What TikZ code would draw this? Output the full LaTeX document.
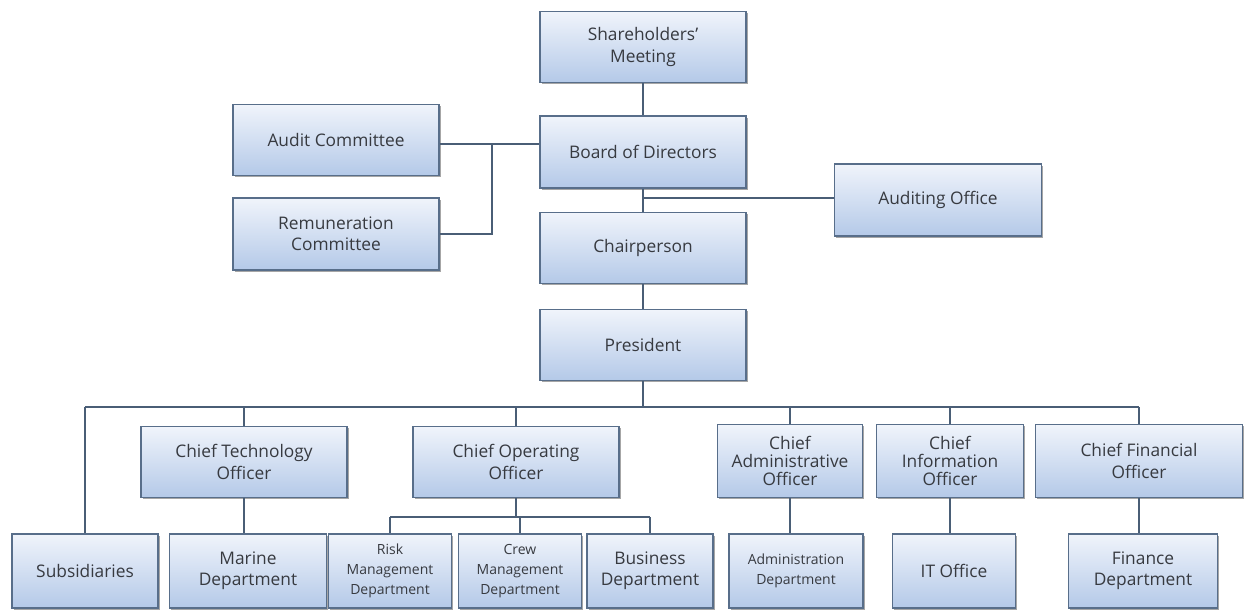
\documentclass[tikz,border=0pt]{standalone}
\usepackage{fontspec}
\setmainfont{Open Sans}
\usetikzlibrary{shadows}
\definecolor{boxtop}{RGB}{240,244,251}
\definecolor{boxbot}{RGB}{180,201,232}
\definecolor{boxline}{RGB}{88,110,138}
\definecolor{linkline}{RGB}{74,94,118}
\definecolor{txt}{RGB}{55,58,64}

\begin{document}
\begin{tikzpicture}[x=0.75pt,y=0.75pt,yscale=-1,xscale=1,
  orgbox/.style 2 args={draw=boxline, line width=0.9pt, top color=boxtop, bottom color=boxbot,
    minimum width=#1*0.75pt, minimum height=#2*0.75pt, inner sep=1pt, align=center,
    text=txt, font=\fontsize{13}{16}\selectfont,
    drop shadow={shadow xshift=1.2pt, shadow yshift=-1.2pt, fill=black, opacity=0.35}},
  small/.style={font=\fontsize{10.5}{15}\selectfont},
  tight/.style={font=\fontsize{13}{13.5}\selectfont},
  link/.style={draw=linkline, line width=1pt}]
\useasboundingbox (0,0) rectangle (1244,610);

%Shape: Rectangle [top of the chart]
\node [orgbox={206}{71}] (share) at (643,47) {Shareholders'\\Meeting};
\node [orgbox={206}{72}] (board) at (643,152) {Board of Directors};
\node [orgbox={206}{71}] (audit) at (336,140) {Audit Committee};
\node [orgbox={206}{72}] (remun) at (336,234) {Remuneration\\Committee};
\node [orgbox={207}{72}] (audoff) at (938,200) {Auditing Office};
\node [orgbox={206}{71}] (chair) at (643,248) {Chairperson};
\node [orgbox={206}{71}] (pres) at (643,345) {President};

%Shape: Rectangle [officers]
\node [orgbox={206}{71}] (cto) at (244,462) {Chief Technology\\Officer};
\node [orgbox={206}{71}] (coo) at (516,462) {Chief Operating\\Officer};
\node [orgbox={145}{73},tight] (cao) at (790,461) {Chief\\Administrative\\Officer};
\node [orgbox={147}{73},tight] (cio) at (950,461) {Chief\\Information\\Officer};
\node [orgbox={207}{73}] (cfo) at (1139,461) {Chief Financial\\Officer};

%Shape: Rectangle [departments]
\node [orgbox={146}{74}] (subs) at (85,571) {Subsidiaries};
\node [orgbox={157}{74}] (marine) at (248,571) {Marine\\Department};
\node [orgbox={123}{74},small] (risk) at (390,571) {Risk\\Management\\Department};
\node [orgbox={123}{74},small] (crew) at (520,571) {Crew\\Management\\Department};
\node [orgbox={126}{74}] (bus) at (650,571) {Business\\Department};
\node [orgbox={134}{74},small] (adm) at (796,571) {Administration\\Department};
\node [orgbox={123}{74}] (itoff) at (954,571) {IT Office};
\node [orgbox={149}{74}] (fin) at (1143,571) {Finance\\Department};

%Straight Lines [board and committees]
\coordinate (cj) at (492,144);
\coordinate (aj) at (643,198);
\coordinate (bj) at (643,407);
\coordinate (oj) at (516,517);
\draw [link] (share) -- (board);
\draw [link] (audit.east |- cj) -- (board.west |- cj);
\draw [link] (remun.east) -| (cj);
\draw [link] (board) -- (chair);
\draw [link] (aj) -- (audoff.west |- aj);
\draw [link] (chair) -- (pres);

%Straight Lines [president bus]
\draw [link] (pres) -- (bj);
\draw [link] (subs.north |- bj) -- (cfo.north |- bj);
\foreach \n in {subs,cto,coo,cao,cio,cfo}
  \draw [link] (\n.north |- bj) -- (\n.north);

%Straight Lines [officers to departments]
\draw [link] (cto.south) -- (cto.south |- marine.north);
\draw [link] (coo.south) -- (oj);
\draw [link] (risk.north |- oj) -- (bus.north |- oj);
\foreach \n in {risk,crew,bus}
  \draw [link] (\n.north |- oj) -- (\n.north);
\draw [link] (cao.south) -- (cao.south |- adm.north);
\draw [link] (cio.south) -- (cio.south |- itoff.north);
\draw [link] (cfo.south) -- (cfo.south |- fin.north);

\end{tikzpicture}
\end{document}
